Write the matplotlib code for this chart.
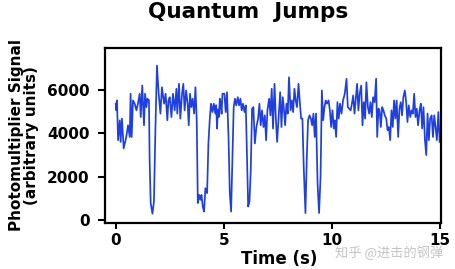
import matplotlib
matplotlib.use("Agg")
import matplotlib.pyplot as plt

# Time (s) and photomultiplier signal (arbitrary units)
time_s = [
    0.00, 0.03, 0.06, 0.11, 0.19, 0.23, 0.29, 0.37, 0.49, 0.57, 0.65, 0.69, 0.74,
    0.80, 0.88, 0.96, 1.03, 1.11, 1.16, 1.23, 1.31, 1.36, 1.42, 1.47, 1.54, 1.57,
    1.62, 1.70, 1.77, 1.84, 1.91, 1.99, 2.07, 2.14, 2.24, 2.31, 2.39, 2.44, 2.50,
    2.58, 2.65, 2.73, 2.81, 2.85, 2.93, 2.99, 3.07, 3.13, 3.19, 3.26, 3.33, 3.38,
    3.44, 3.50, 3.56, 3.63, 3.69, 3.75, 3.80, 3.86, 3.92, 3.97, 4.03, 4.09, 4.15,
    4.23, 4.29, 4.35, 4.41, 4.48, 4.54, 4.61, 4.65, 4.69, 4.73, 4.77, 4.82, 4.86,
    4.90, 4.94, 5.03, 5.09,
    5.15, 5.22, 5.28, 5.34, 5.40, 5.46, 5.52, 5.58, 5.65, 5.71, 5.77, 5.83, 5.89,
    5.96, 6.02, 6.08, 6.13, 6.19, 6.25, 6.31, 6.37, 6.44, 6.51, 6.59, 6.65, 6.71,
    6.77, 6.84, 6.90, 6.96, 7.02, 7.10, 7.16, 7.22, 7.28, 7.35, 7.41, 7.47, 7.55,
    7.61, 7.67, 7.73, 7.79, 7.84, 7.90, 7.96, 8.02, 8.09, 8.15, 8.21, 8.27, 8.33,
    8.39, 8.46, 8.52, 8.58, 8.64, 8.70, 8.78, 8.84, 8.90, 8.97, 9.03, 9.09, 9.15,
    9.21, 9.27, 9.34, 9.41, 9.48, 9.54, 9.60, 9.66, 9.72, 9.78, 9.85, 9.91, 9.97,
    10.03, 10.09, 10.14, 10.20, 10.26, 10.32, 10.38, 10.45, 10.52, 10.60, 10.68,
    10.74, 10.80, 10.87, 10.93, 10.99, 11.05, 11.11, 11.17, 11.23, 11.29, 11.36,
    11.42, 11.48, 11.54, 11.60, 11.67, 11.73, 11.79, 11.85, 11.91, 11.98, 12.05,
    12.10, 12.16, 12.21, 12.27, 12.33, 12.39, 12.45, 12.52, 12.58, 12.64, 12.70,
    12.76, 12.82, 12.88, 12.94, 13.00, 13.07, 13.13, 13.19, 13.25, 13.31, 13.38,
    13.44, 13.50, 13.56, 13.63, 13.69, 13.75, 13.81, 13.87, 13.93, 13.99, 14.06,
    14.12, 14.18, 14.24, 14.31, 14.37, 14.43, 14.49, 14.55, 14.62, 14.68, 14.74,
    14.80, 14.86, 14.93, 14.99,
]
signal = [
    5370, 5060, 5520, 3680, 4600, 3600, 4680, 3300, 3830, 4370, 3830, 5830, 3830,
    5520, 5370, 5060, 5370, 5830, 4750, 6210, 4370, 5830, 5210, 5600, 5520, 2760,
    770, 280, 840, 4290, 7130, 5830, 4910, 6130, 5370, 5830, 4600, 5500, 5670,
    4750, 5830, 5060, 6060, 4910, 6290, 4680, 5830, 6290, 5060, 5980, 5370, 4370,
    5830, 5210, 5600, 4910, 6130, 4600, 770, 1150, 920, 1150, 610, 380, 1460,
    1230, 3530, 4600, 5370, 4980, 5370, 4910, 5300, 4220, 5100, 4750, 5600, 5370,
    4900, 5830, 5830, 4980,
    5900, 3830, 1230, 380, 2760, 5210, 5600, 5290, 5670, 5290, 5600, 5060, 5370,
    4980, 5290, 2760, 610, 840, 2300, 5140, 5210, 3530, 4290, 4680, 5370, 4370,
    5060, 4290, 4830, 3680, 5060, 5600, 4830, 6060, 4220, 6290, 4680, 3600, 4910,
    5900, 4290, 5670, 5060, 4370, 5370, 4910, 6590, 5060, 5520, 4980, 6060, 5520,
    5210, 6290, 5440, 4680, 4680, 2450, 310, 2760, 4600, 4830, 4680, 4370, 4910,
    3830, 4910, 1690, 310, 2000, 5980, 4600, 5210, 5520, 5370, 5520, 5060, 4290,
    5060, 4220, 4600, 3830, 5440, 4680, 5370, 4910, 5520, 5830, 6520, 5210, 5140,
    5060, 5370, 5750, 4910, 5600, 6290, 5060, 5830, 6210, 4370, 5440, 4680, 6360,
    5210, 4910, 5440, 4750, 5670, 5440, 6520, 3830, 5140, 5060, 4290, 5210, 5060,
    4830, 4680, 4140, 4290, 3680, 5060, 4290, 5520, 4680, 5520, 3830, 5140, 5440,
    4830, 5670, 5980, 5440, 4520, 5290, 4750, 5060, 4910, 5830, 4750, 5140, 4370,
    5060, 5370, 4220, 5210, 3680, 2990, 4910, 3680, 4680, 4830, 3830, 4830, 4290,
    3680, 4980, 3600,
]

x_ticks = [0, 5, 10, 15]
y_ticks = [0, 2000, 4000, 6000]

fig = plt.figure(figsize=(4.56, 2.69), dpi=100)
ax = fig.add_axes([0.230, 0.171, 0.737, 0.651])

ax.plot(time_s, signal, color="#1f3fe0", linewidth=1.25)

ax.set_xlim(-0.5, 15.05)
ax.set_ylim(-150, 7950)
ax.set_xticks(x_ticks)
ax.set_yticks(y_ticks)
ax.set_xticklabels([str(v) for v in x_ticks], fontsize=11, fontweight="bold")
ax.set_yticklabels([str(v) for v in y_ticks], fontsize=11, fontweight="bold")
ax.tick_params(axis="y", direction="out", length=5, width=1.5, pad=6)
ax.tick_params(axis="x", direction="out", length=4, width=1.5, pad=3)
for s in ax.spines.values():
    s.set_linewidth(1.6)
    s.set_color("black")

ax.set_xlabel("Time (s)", fontsize=12, fontweight="bold", labelpad=2)
ax.xaxis.set_label_coords(0.518, -0.155)
ax.set_ylabel("Photomultiplier Signal\n(arbitrary units)", fontsize=11,
              fontweight="bold", linespacing=0.95, labelpad=6)

fig.text(0.544, 0.955, "Quantum  Jumps", ha="center", va="center",
         fontsize=15.5, fontweight="bold")

fig.text(0.735, 0.060, "知乎 @进击的钢弹", fontsize=9.5, color="#c4c4c4",
         family=["Noto Sans CJK SC", "DejaVu Sans"], ha="left", va="center")

fig.savefig("out.png", dpi=100)
